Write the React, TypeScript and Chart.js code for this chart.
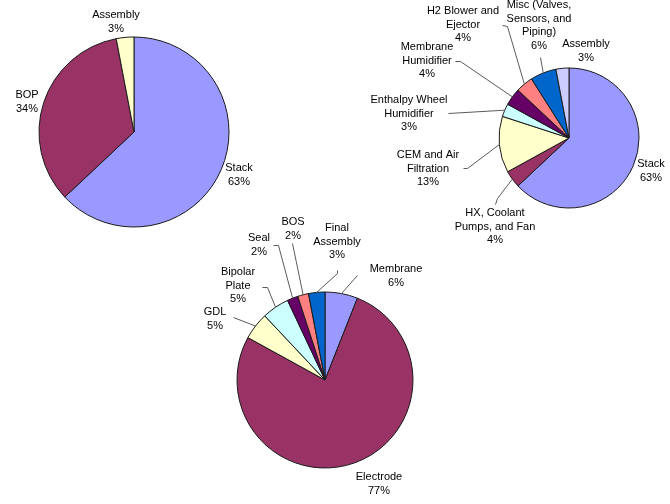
import React, { useEffect, useRef } from "react";
import { Chart, registerables } from "chart.js";
Chart.register(...registerables);

// ---------- Data ----------
const overviewLabels = ["Stack", "BOP", "Assembly"];
const overviewValues = [63, 34, 3];
const overviewColors = ["#9999FF", "#993366", "#FFFFCC"];

const bopLabels = [
  "Stack",
  "HX, Coolant Pumps, and Fan",
  "CEM and Air Filtration",
  "Enthalpy Wheel Humidifier",
  "Membrane Humidifier",
  "H2 Blower and Ejector",
  "Misc (Valves, Sensors, and Piping)",
  "Assembly",
];
const bopValues = [63, 4, 13, 3, 4, 4, 6, 3];
const bopColors = ["#9999FF", "#993366", "#FFFFCC", "#CCFFFF", "#660066", "#FF8080", "#0066CC", "#CCCCFF"];

const stackLabels = ["Membrane", "Electrode", "GDL", "Bipolar Plate", "Seal", "BOS", "Final Assembly"];
const stackValues = [6, 77, 5, 5, 2, 2, 3];
const stackColors = ["#9999FF", "#993366", "#FFFFCC", "#CCFFFF", "#660066", "#FF8080", "#0066CC"];

// ---------- Layout (label placement, text wrapping) ----------
type LabelLayout = { lines: string[]; x: number; y: number; line?: number[][] };

const overviewLayout: LabelLayout[] = [
  { lines: ["Stack"], x: 239, y: 168 },
  { lines: ["BOP"], x: 27, y: 95 },
  { lines: ["Assembly"], x: 116, y: 15 },
];

const bopLayout: LabelLayout[] = [
  { lines: ["Stack"], x: 651, y: 164 },
  { lines: ["HX, Coolant", "Pumps, and Fan"], x: 495, y: 213, line: [[495, 204], [497, 198]] },
  { lines: ["CEM and Air", "Filtration"], x: 428, y: 155, line: [[463, 168], [467, 168]] },
  { lines: ["Enthalpy Wheel", "Humidifier"], x: 409, y: 100, line: [[448, 113]] },
  { lines: ["Membrane", "Humidifier"], x: 427, y: 47, line: [[455, 61], [460, 61]] },
  { lines: ["H2 Blower and", "Ejector"], x: 463, y: 11, line: [[502, 25], [507, 26]] },
  { lines: ["Misc (Valves,", "Sensors, and", "Piping)"], x: 539, y: 5, line: [[540, 57]] },
  { lines: ["Assembly"], x: 586, y: 44 },
];

const stackLayout: LabelLayout[] = [
  { lines: ["Membrane"], x: 396, y: 269, line: [[357, 275]] },
  { lines: ["Electrode"], x: 379, y: 477 },
  { lines: ["GDL"], x: 215, y: 312, line: [[233, 317]] },
  { lines: ["Bipolar", "Plate"], x: 238, y: 272, line: [[262, 287], [267, 287]] },
  { lines: ["Seal"], x: 259, y: 238, line: [[273, 245], [278, 245]] },
  { lines: ["BOS"], x: 293, y: 222, line: [[292, 243]] },
  { lines: ["Final", "Assembly"], x: 337, y: 228, line: [[337, 270], [337, 273]] },
];

const W = 670;
const H = 504;
const LINE_H = 13.5;

type PieProps = {
  labels: string[];
  values: number[];
  colors: string[];
  cx: number;
  cy: number;
  r: number;
  layout: LabelLayout[];
};

function PieCanvas({ labels, values, colors, cx, cy, r, layout }: PieProps) {
  const ref = useRef<HTMLCanvasElement | null>(null);
  useEffect(() => {
    if (!ref.current) return;
    const labelPlugin = {
      id: "leaderLabels",
      afterDatasetsDraw(chart: any) {
        const ctx = chart.ctx as CanvasRenderingContext2D;
        const meta = chart.getDatasetMeta(0);
        ctx.save();
        ctx.font = "11px 'Liberation Sans', Arial, sans-serif";
        ctx.textAlign = "center";
        ctx.textBaseline = "middle";
        layout.forEach((item, i) => {
          const arc = meta.data[i];
          if (!arc) return;
          const p = arc.getProps(["x", "y", "startAngle", "endAngle", "outerRadius"], true);
          const mid = (p.startAngle + p.endAngle) / 2;
          const ex = p.x + Math.cos(mid) * p.outerRadius;
          const ey = p.y + Math.sin(mid) * p.outerRadius;
          if (item.line && item.line.length) {
            ctx.beginPath();
            ctx.strokeStyle = "#5a5a5a";
            ctx.lineWidth = 1;
            ctx.moveTo(item.line[0][0] + 0.5, item.line[0][1] + 0.5);
            for (let k = 1; k < item.line.length; k++) ctx.lineTo(item.line[k][0] + 0.5, item.line[k][1] + 0.5);
            ctx.lineTo(ex, ey);
            ctx.stroke();
          }
          ctx.fillStyle = "#000";
          const texts = [...item.lines, `${values[i]}%`];
          texts.forEach((t, k) => ctx.fillText(t, item.x, item.y + k * LINE_H));
        });
        ctx.restore();
      },
    };
    const chart = new Chart(ref.current, {
      type: "pie",
      data: {
        labels,
        datasets: [
          {
            data: values,
            backgroundColor: colors,
            borderColor: "#1a1a1a",
            borderWidth: 1,
          },
        ],
      },
      options: {
        responsive: false,
        animation: false,
        radius: r,
        layout: {
          padding: { left: cx - r, right: W - cx - r, top: cy - r, bottom: H - cy - r },
        },
        plugins: { legend: { display: false }, tooltip: { enabled: false } },
        events: [],
      } as any,
      plugins: [labelPlugin],
    });
    return () => chart.destroy();
  }, []);
  return (
    <canvas
      ref={ref}
      width={W}
      height={H}
      style={{ position: "absolute", left: 0, top: 0, width: W, height: H }}
    />
  );
}

export default function App() {
  return (
    <div style={{ position: "fixed", left: 0, top: 0, width: W, height: H, background: "#fff" }}>
      <PieCanvas labels={overviewLabels} values={overviewValues} colors={overviewColors} cx={134} cy={132} r={95} layout={overviewLayout} />
      <PieCanvas labels={bopLabels} values={bopValues} colors={bopColors} cx={569} cy={138} r={70} layout={bopLayout} />
      <PieCanvas labels={stackLabels} values={stackValues} colors={stackColors} cx={325} cy={380} r={88} layout={stackLayout} />
    </div>
  );
}
